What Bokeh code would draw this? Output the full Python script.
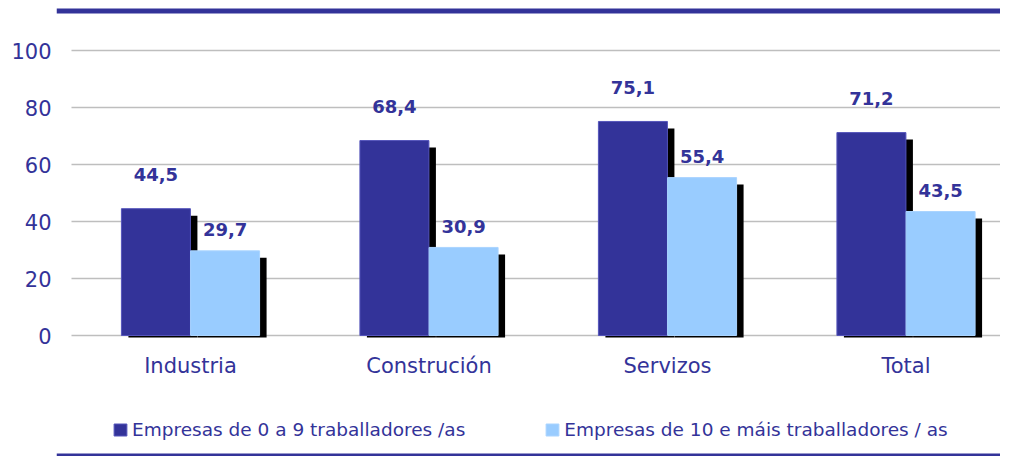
from bokeh.plotting import figure
from bokeh.models import Range1d, FixedTicker, Legend, LegendItem
from bokeh.core.properties import value
from bokeh.embed import file_html
from bokeh.resources import INLINE

categories = ["Industria", "Construción", "Servizos", "Total"]
small = [44.5, 68.4, 75.1, 71.2]
large = [29.7, 30.9, 55.4, 43.5]
small_labels = ["44,5", "68,4", "75,1", "71,2"]
large_labels = ["29,7", "30,9", "55,4", "43,5"]
y_ticks = [0, 20, 40, 60, 80, 100]
series_names = ["Empresas de 0 a 9 traballadores /as", "Empresas de 10 e máis traballadores / as"]

DARK = "#333399"
LIGHT = "#99CCFF"
TEXT = "#333399"
FONT = "DejaVu Sans"

# layout helpers: figure pixel -> data coordinate
PX_PER_X = 238.5
X0_PX = 190.0
PX_PER_Y = 2.85
Y0_PX = 335.0
def dx(px): return (px - X0_PX) / PX_PER_X
def dy(px): return (Y0_PX - px) / PX_PER_Y

W, H = 1000, 456
LEFT, RIGHT, TOP, BOTTOM = 56, W, 0, H
p = figure(width=W, height=H, output_backend="svg", toolbar_location=None,
           x_range=Range1d(dx(LEFT), dx(RIGHT)),
           y_range=Range1d(dy(BOTTOM), dy(TOP)),
           min_border_left=LEFT, min_border_right=0, min_border_top=0, min_border_bottom=0)
p.outline_line_color = None
p.xgrid.visible = False
p.ygrid.visible = False
p.xaxis.visible = False
ax = p.yaxis[0]
ax.ticker = FixedTicker(ticks=y_ticks)
ax.axis_line_color = None
ax.major_tick_line_color = None
ax.minor_tick_line_color = None
ax.major_tick_out = 0
ax.minor_tick_out = 0
ax.major_label_text_color = TEXT
ax.major_label_text_font = FONT
ax.major_label_text_font_size = "21px"
ax.major_label_standoff = 5

# grid lines
p.segment(x0=[dx(71)] * len(y_ticks), x1=[dx(RIGHT)] * len(y_ticks), y0=y_ticks, y1=y_ticks,
          line_color="#BEBEBE", line_width=1.5)

# decorative top / bottom rules
p.segment(x0=[dx(LEFT)], x1=[dx(RIGHT)], y0=[dy(10.5)], y1=[dy(10.5)], line_color=DARK, line_width=5)
p.segment(x0=[dx(LEFT)], x1=[dx(RIGHT)], y0=[dy(454.5)], y1=[dy(454.5)], line_color=DARK, line_width=3)

xs = list(range(len(categories)))
bw = 69 / PX_PER_X
off = 0.145
sx = 7 / PX_PER_X
sy = 7 / PX_PER_Y
bottom_sh = -2 / PX_PER_Y

xd = [x - off for x in xs]
xl = [x + off for x in xs]

# shadows
p.vbar(x=[x + sx for x in xd], width=bw, top=[v - sy for v in small], bottom=bottom_sh,
       fill_color="black", line_color=None)
p.vbar(x=[x + sx for x in xl], width=bw, top=[v - sy for v in large], bottom=bottom_sh,
       fill_color="black", line_color=None)

r1 = p.vbar(x=xd, width=bw, top=small, bottom=0, fill_color=DARK, line_color="#5555BB", line_width=1)
r2 = p.vbar(x=xl, width=bw, top=large, bottom=0, fill_color=LIGHT, line_color="#AAD4FF", line_width=1)

# value labels
p.text(x=xd, y=small, text=small_labels, y_offset=-34, text_align="center",
       text_baseline="middle", text_color=TEXT, text_font=value(FONT), text_font_size="18px",
       text_font_style="bold")
p.text(x=xl, y=large, text=large_labels, y_offset=-21, text_align="center",
       text_baseline="middle", text_color=TEXT, text_font=value(FONT), text_font_size="18px",
       text_font_style="bold")

# category labels
p.text(x=xs, y=[0] * len(xs), text=categories, y_offset=30, text_align="center",
       text_baseline="middle", text_color=TEXT, text_font=value(FONT), text_font_size="21px")

legend = Legend(items=[LegendItem(label=series_names[0], renderers=[r1]),
                       LegendItem(label=series_names[1], renderers=[r2])],
                location=(112 - LEFT, BOTTOM - 440), orientation="horizontal",
                border_line_color=None, background_fill_alpha=0,
                padding=0, margin=0, spacing=79,
                glyph_width=16, glyph_height=15, label_height=15, label_standoff=4,
                label_text_font=FONT, label_text_font_size="18.5px", label_text_color=TEXT)
p.add_layout(legend, "center")

open("out.html", "w").write(file_html(p, INLINE))
